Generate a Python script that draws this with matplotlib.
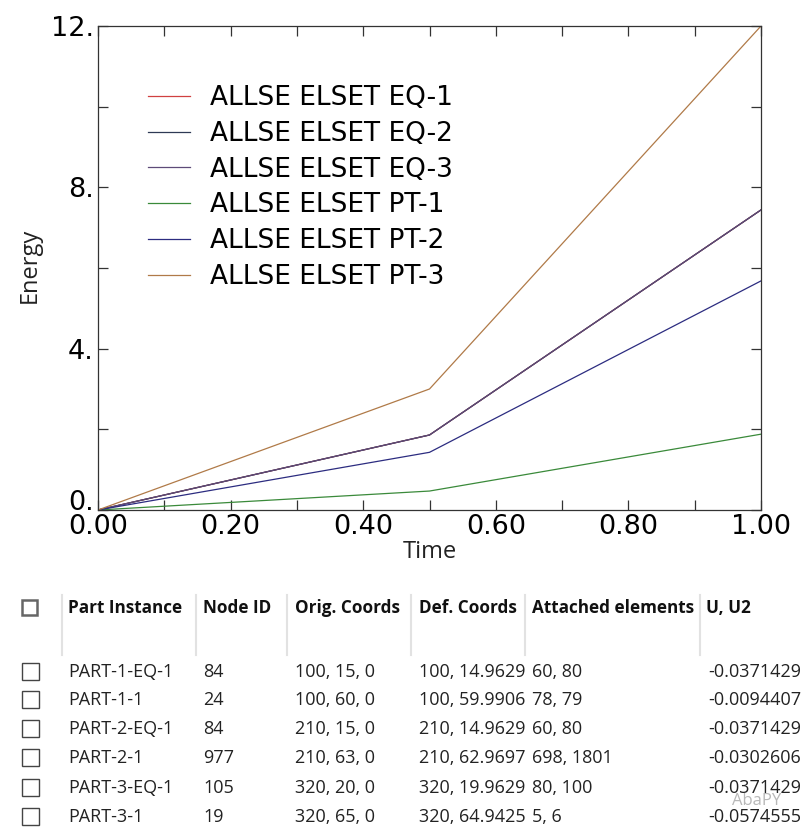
import matplotlib
matplotlib.use("Agg")
import matplotlib.pyplot as plt
from matplotlib.ticker import MultipleLocator, FixedLocator, FixedFormatter
from matplotlib.patches import Rectangle
from matplotlib.lines import Line2D

# ---------------- data ----------------
time = [0.0, 0.5, 1.0]
series_labels = ["ALLSE ELSET EQ-1", "ALLSE ELSET EQ-2", "ALLSE ELSET EQ-3",
                 "ALLSE ELSET PT-1", "ALLSE ELSET PT-2", "ALLSE ELSET PT-3"]
eq1 = [0.0, 1.86, 7.44]
eq2 = [0.0, 1.86, 7.44]
eq3 = [0.0, 1.86, 7.44]
pt1 = [0.0, 0.47, 1.88]
pt2 = [0.0, 1.43, 5.68]
pt3 = [0.0, 3.00, 12.00]
series_colors = ["#d04040", "#2e3a55", "#5e4a78", "#3a8a3a", "#2c2c80", "#b07a48"]

xticks = [0.0, 0.2, 0.4, 0.6, 0.8, 1.0]
xtick_labels = ["0.00", "0.20", "0.40", "0.60", "0.80", "1.00"]
yticks = [0, 4, 8, 12]
ytick_labels = ["0.", "4.", "8.", "12."]

table_headers = ["Part Instance", "Node ID", "Orig. Coords", "Def. Coords",
                 "Attached elements", "U, U2"]
part_instance = ["PART-1-EQ-1", "PART-1-1", "PART-2-EQ-1", "PART-2-1",
                 "PART-3-EQ-1", "PART-3-1"]
node_id = ["84", "24", "84", "977", "105", "19"]
orig_coords = ["100, 15, 0", "100, 60, 0", "210, 15, 0", "210, 63, 0",
               "320, 20, 0", "320, 65, 0"]
def_coords = ["100, 14.9629", "100, 59.9906", "210, 14.9629", "210, 62.9697",
              "320, 19.9629", "320, 64.9425"]
attached = ["60, 80", "78, 79", "60, 80", "698, 1801", "80, 100", "5, 6"]
u2 = ["-0.0371429", "-0.0094407", "-0.0371429", "-0.0302606",
      "-0.0371429", "-0.0574555"]

# ---------------- figure ----------------
W, H = 812, 835
fig = plt.figure(figsize=(W / 100, H / 100), dpi=100)
fig.patch.set_facecolor("white")

def fx(x):
    return x / W

def fy(y):
    return 1 - y / H

ax = fig.add_axes([fx(98), fy(510), fx(761) - fx(98), fy(26) - fy(510)])
all_series = [eq1, eq2, eq3, pt1, pt2, pt3]
for vals, lab, col in zip(all_series, series_labels, series_colors):
    ax.plot(time, vals, color=col, lw=0.9, label=lab)

ax.set_xlim(0, 1.0)
ax.set_ylim(0, 12)
ax.xaxis.set_major_locator(FixedLocator(xticks))
ax.xaxis.set_major_formatter(FixedFormatter(xtick_labels))
ax.xaxis.set_minor_locator(MultipleLocator(0.1))
ax.yaxis.set_major_locator(FixedLocator(yticks))
ax.yaxis.set_major_formatter(FixedFormatter(ytick_labels))
ax.yaxis.set_minor_locator(MultipleLocator(2))
ax.tick_params(which="both", direction="in", top=True, right=True,
               length=7, width=0.9, color="#333333")
ax.tick_params(axis="both", which="major", labelsize=19.5)
ax.tick_params(axis="x", which="major", pad=3)
ax.tick_params(axis="y", which="major", pad=3)
for lbl in ax.get_xticklabels() + ax.get_yticklabels():
    lbl.set_fontfamily("DejaVu Sans")
fig.canvas.draw()
ylabels = ax.get_yticklabels()
ylabels[0].set_verticalalignment("baseline")
for s in ax.spines.values():
    s.set_linewidth(0.9)
    s.set_color("#333333")

fig.text(fx(30), fy(265), "Energy", rotation=90, ha="center", va="center",
         fontsize=17, family="Open Sans", color="#222222")
fig.text(fx(430), fy(552), "Time", ha="center", va="center",
         fontsize=17, family="Open Sans", color="#222222")

leg = ax.legend(loc="upper left", bbox_to_anchor=(fx(148), fy(85)),
                bbox_transform=fig.transFigure, frameon=False,
                fontsize=19, handlelength=1.6, handletextpad=0.75,
                labelspacing=0.37, borderpad=0, borderaxespad=0)
for t in leg.get_texts():
    t.set_fontfamily("DejaVu Sans")

# ---------------- table ----------------
tfont = "Open Sans"
hdr_y = 608
row_ys = [672, 700, 729, 758, 788, 817]
col_x = [68, 203, 295, 419, 532]
sep_x = [62, 196, 287, 411, 525, 700]

for sx in sep_x:
    fig.add_artist(Line2D([fx(sx), fx(sx)], [fy(595), fy(655)],
                          transform=fig.transFigure, color="#e2e2e2", lw=1.5))

for xh, h in zip(col_x + [706], table_headers):
    fig.text(fx(xh), fy(hdr_y), h, ha="left", va="center", fontsize=12.3,
             family=tfont, weight="bold", color="#111111")

# header checkbox
fig.add_artist(Rectangle((fx(22), fy(615)), fx(15), fy(0) - fy(15),
                         transform=fig.transFigure, fill=False,
                         edgecolor="#666666", lw=1.8))

columns = [part_instance, node_id, orig_coords, def_coords, attached]
for i, ry in enumerate(row_ys):
    fig.add_artist(Rectangle((fx(22), fy(ry + 8)), fx(17), fy(0) - fy(17),
                             transform=fig.transFigure, fill=False,
                             edgecolor="#444444", lw=1.0))
    for xc, col in zip(col_x, columns):
        fig.text(fx(xc), fy(ry), col[i], ha="left", va="center", fontsize=13,
                 family=tfont, color="#222222")
    fig.text(fx(801), fy(ry), u2[i], ha="right", va="center", fontsize=13,
             family=tfont, color="#222222")

# watermark
fig.text(fx(757), fy(801), "AbaPY", ha="center", va="center", fontsize=12,
         family=tfont, color="#9a9a9a", alpha=0.7)

fig.savefig("out.png", dpi=100, facecolor="white")
